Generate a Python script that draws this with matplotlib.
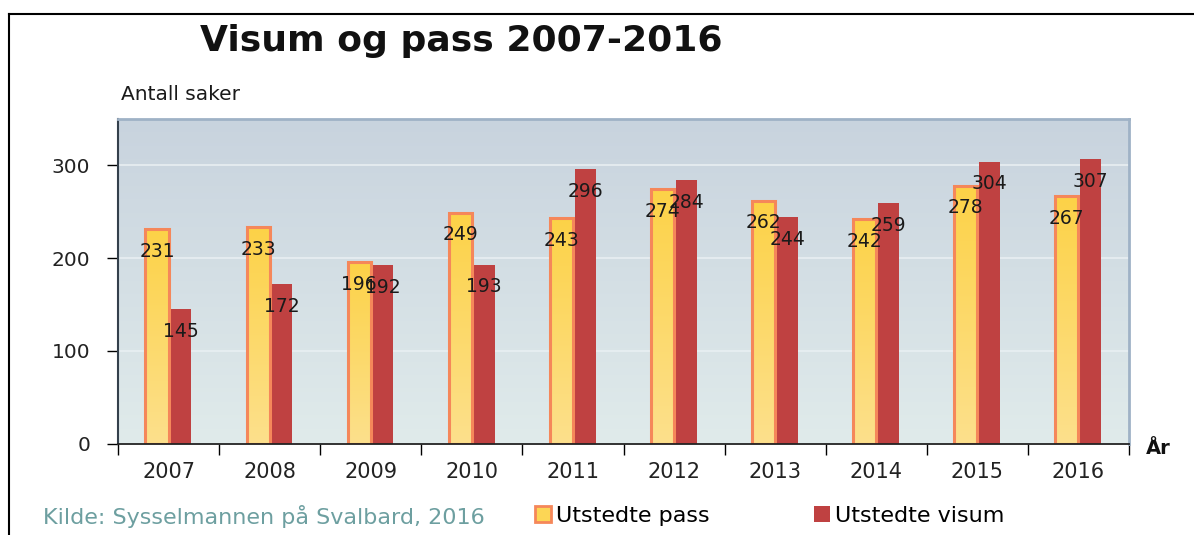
import numpy as np
import matplotlib
matplotlib.use("Agg")
import matplotlib.pyplot as plt
from matplotlib.colors import LinearSegmentedColormap
from matplotlib.patches import Patch
from matplotlib.lines import Line2D

plt.rcParams['font.family'] = ['DejaVu Sans']

years = ["2007", "2008", "2009", "2010", "2011", "2012", "2013", "2014", "2015", "2016"]
pass_vals = [231, 233, 196, 249, 243, 274, 262, 242, 278, 267]
visum_vals = [145, 172, 192, 193, 296, 284, 244, 259, 304, 307]
yticks = [0, 100, 200, 300]

W, H = 1194, 535
fig = plt.figure(figsize=(W / 100, H / 100), dpi=100)
ax = fig.add_axes([118 / W, 1 - 443.5 / H, (1129 - 118) / W, (443.5 - 119) / H])

x = np.arange(len(years))

# background gradient
bg = LinearSegmentedColormap.from_list("bg", ["#e0ebeb", "#c8d3de"])
grad = np.linspace(0, 1, 256).reshape(-1, 1)
ax.imshow(grad, extent=[0, 1, 0, 1], transform=ax.transAxes, origin="lower",
          cmap=bg, aspect="auto", zorder=-2)

# pass bars (gradient fill + orange edge)
pw, vw = 0.228, 0.208
pcx = x - 0.114
vcx = x + 0.121
pass_bars = ax.bar(pcx, pass_vals, width=pw, color="#fcd655", edgecolor="none", zorder=2)
ycmap = LinearSegmentedColormap.from_list("yb", ["#fde08c", "#fcd247"])
for rect in pass_bars:
    x0 = rect.get_x()
    im = ax.imshow(grad, extent=[x0, x0 + rect.get_width(), 0, rect.get_height()],
                   origin="lower", cmap=ycmap, aspect="auto", zorder=2.1)
    im.set_clip_path(rect)
ax.bar(pcx, pass_vals, width=pw, fill=False, edgecolor="#f5875a", linewidth=2.2, zorder=2.2)

visum_bars = ax.bar(vcx, visum_vals, width=vw, color="#bf4141", edgecolor="none", zorder=2)

# value labels
for xc, v in zip(pcx, pass_vals):
    ax.annotate(str(v), (xc, v), xytext=(0, -16), textcoords="offset points",
                ha="center", va="center", fontsize=13.5, color="#1a1a1a", zorder=5)
for xc, v in zip(vcx, visum_vals):
    ax.annotate(str(v), (xc, v), xytext=(0, -16), textcoords="offset points",
                ha="center", va="center", fontsize=13.5, color="#1a1a1a", zorder=5)

ax.set_xlim(-0.5, len(years) - 0.5)
ax.set_ylim(0, 350)

ax.set_yticks(yticks)
ax.set_yticklabels([str(t) for t in yticks])
ax.tick_params(axis="y", direction="out", length=8, width=1, color="black",
               labelsize=14.5, pad=12, labelcolor="#222222")
ax.set_xticks(x)
ax.set_xticklabels(years)
ax.tick_params(axis="x", which="major", length=0, labelsize=15, pad=13, labelcolor="#222222")
ax.set_xticks(np.arange(-0.5, len(years), 1), minor=True)
ax.tick_params(axis="x", which="minor", direction="out", length=8, width=1, color="black")

ax.yaxis.grid(True, color="#e8eff2", linewidth=1.2, zorder=-1)
ax.set_axisbelow(True)

ax.spines["left"].set_color("#34404c")
ax.spines["left"].set_linewidth(1.5)
ax.spines["bottom"].set_color("#222222")
ax.spines["bottom"].set_linewidth(1.3)
for s in ("top", "right"):
    ax.spines[s].set_color("#9fb2c6")
    ax.spines[s].set_linewidth(2)

# texts
fig.text(200 / W, 1 - 51 / H, "Visum og pass 2007-2016", ha="left", va="baseline",
         fontsize=26, fontweight="bold", color="#111111")
fig.text(121 / W, 1 - 100 / H, "Antall saker", ha="left", va="baseline",
         fontsize=14.5, color="#1a1a1a")
fig.text(1146 / W, 1 - 448 / H, "År", ha="left", va="center",
         fontsize=14, fontweight="bold", color="#111111")
fig.text(43 / W, 1 - 516 / H, "Kilde: Sysselmannen på Svalbard, 2016", ha="left", va="center",
         fontsize=16, color="#6d9fa0")

handles = [Patch(facecolor="#fcd655", edgecolor="#f5875a", linewidth=2),
           Patch(facecolor="#bf4141", edgecolor="none")]
fig.legend(handles, ["Utstedte pass", "Utstedte visum"], loc="center left",
           bbox_to_anchor=(535 / W, 1 - 516 / H), ncol=2, frameon=False, fontsize=16,
           handlelength=0.7, handleheight=0.7, handletextpad=0.25, columnspacing=4.7,
           borderpad=0, borderaxespad=0)

# figure frame (left and top)
fig.add_artist(Line2D([9 / W, 9 / W], [0, 1 - 14 / H], color="black", linewidth=1.5))
fig.add_artist(Line2D([9 / W, 1], [1 - 14 / H, 1 - 14 / H], color="black", linewidth=1.5))

fig.savefig("out.png", dpi=100)
